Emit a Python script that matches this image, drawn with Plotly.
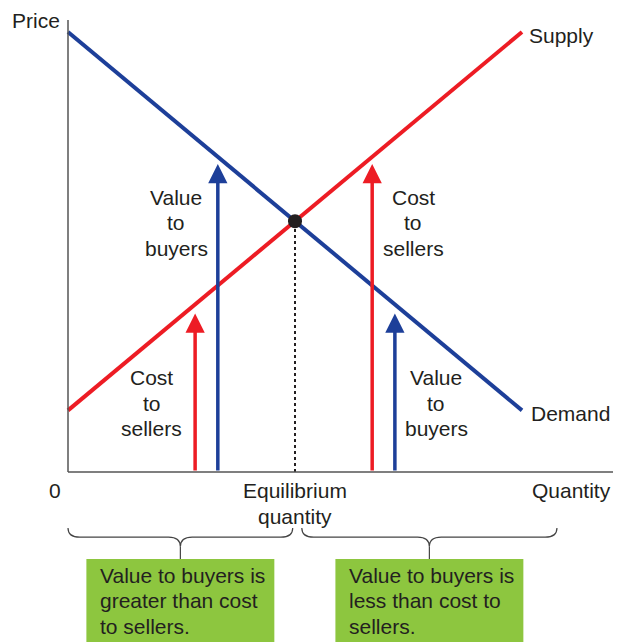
import plotly.graph_objects as go

# ── data ────────────────────────────────────────────────────────────────────
quantity = [0, 10]
demand_price = [10, 1.4]
supply_price = [1.4, 10]
eq_quantity = 5
eq_price = 5.7

# arrows left of equilibrium (cost, value) and right of it (cost, value)
arrow_quantity = [2.8, 3.3, 6.7, 7.2]
arrow_tip = [3.6, 7.0, 7.0, 3.6]
arrow_kind = ["supply", "demand", "supply", "demand"]

RED = "#ED1C24"
BLUE = "#1D3F99"
INK = "#231F20"
GREEN = "#8DC63F"
FONT = "Liberation Sans, Arial, Helvetica, sans-serif"

fig = go.Figure()

fig.add_trace(go.Scatter(
    x=quantity, y=supply_price, mode="lines",
    line=dict(color=RED, width=4), hoverinfo="skip", showlegend=False,
))
fig.add_trace(go.Scatter(
    x=quantity, y=demand_price, mode="lines",
    line=dict(color=BLUE, width=4), hoverinfo="skip", showlegend=False,
))

# dotted drop line + equilibrium point
fig.add_trace(go.Scatter(
    x=[eq_quantity, eq_quantity], y=[0, eq_price], mode="lines",
    line=dict(color=INK, width=2, dash="dot"), hoverinfo="skip", showlegend=False,
))
fig.add_trace(go.Scatter(
    x=[eq_quantity], y=[eq_price], mode="markers",
    marker=dict(color=INK, size=14), hoverinfo="skip", showlegend=False,
))

# axes drawn as plain lines
fig.add_shape(type="line", x0=0, x1=0, y0=0, y1=10.27,
              line=dict(color="#555555", width=1.5))
fig.add_shape(type="line", x0=0, x1=12.11, y0=0, y1=0,
              line=dict(color="#555555", width=1.5))

annotations = []

# vertical arrows
for q, tip, kind in zip(arrow_quantity, arrow_tip, arrow_kind):
    annotations.append(dict(
        x=q, y=tip, ax=q, ay=0, xref="x", yref="y", axref="x", ayref="y",
        text="", showarrow=True, arrowhead=2, arrowsize=1.1, arrowwidth=3.5,
        arrowcolor=RED if kind == "supply" else BLUE, standoff=0,
    ))


def label(x, y, text, size=21, xanchor="center"):
    annotations.append(dict(
        x=x, y=y, xref="x", yref="y", text=text, showarrow=False,
        xanchor=xanchor, yanchor="middle", borderpad=0,
        font=dict(family=FONT, size=size, color=INK),
    ))


def stacked(x, y_top, lines, step=0.58, xanchor="center"):
    for i, t in enumerate(lines):
        label(x, y_top - i * step, t, xanchor=xanchor)


label(-0.70, 10.27, "Price")
label(10.88, 9.93, "Supply")
label(11.06, 1.34, "Demand")
label(-0.29, -0.43, "0")
label(11.10, -0.43, "Quantity")
stacked(eq_quantity, -0.43, ["Equilibrium", "quantity"])

stacked(2.38, 6.25, ["Value", "to", "buyers"])
stacked(7.60, 6.25, ["Cost", "to", "sellers"])
stacked(1.85, 2.14, ["Cost", "to", "sellers"])
stacked(8.11, 2.14, ["Value", "to", "buyers"])


# braces under the quantity axis
def brace_path(x0, x1, y_top, y_mid, y_tip, r=0.26):
    xc = (x0 + x1) / 2
    return (f"M {x0},{y_top} Q {x0},{y_mid} {x0 + r},{y_mid} "
            f"L {xc - r},{y_mid} Q {xc},{y_mid} {xc},{y_tip} "
            f"Q {xc},{y_mid} {xc + r},{y_mid} "
            f"L {x1 - r},{y_mid} Q {x1},{y_mid} {x1},{y_top}")


brace_top, brace_mid, brace_tip, box_top = -1.27, -1.48, -1.70, -1.98
box_w = 4.14
boxes = [
    ((0, 4.95), ["Value to buyers is", "greater than cost", "to sellers."]),
    ((5.15, 10.77), ["Value to buyers is", "less than cost to", "sellers."]),
]
for (b0, b1), lines in boxes:
    xc = (b0 + b1) / 2
    fig.add_shape(type="path", path=brace_path(b0, b1, brace_top, brace_mid, brace_tip),
                  line=dict(color="#444444", width=1.2))
    fig.add_shape(type="line", x0=xc, x1=xc, y0=brace_tip, y1=box_top,
                  line=dict(color="#444444", width=1.2))
    fig.add_shape(type="rect", x0=xc - box_w / 2, x1=xc + box_w / 2,
                  y0=-4.2, y1=box_top, fillcolor=GREEN, line=dict(width=0),
                  layer="below")
    stacked(xc - box_w / 2 + 0.28, -2.36, lines, step=0.57, xanchor="left")

# page body adds an 8px margin, so the figure is 8px smaller on each axis
fig.update_layout(
    width=613, height=634,
    margin=dict(l=0, r=0, t=0, b=0),
    paper_bgcolor="white", plot_bgcolor="white",
    xaxis=dict(range=[-1.3216, 12.1806], visible=False, fixedrange=True),
    yaxis=dict(range=[-3.8636, 10.5455], visible=False, fixedrange=True),
    annotations=annotations,
    showlegend=False,
)

fig.write_html("out.html")
